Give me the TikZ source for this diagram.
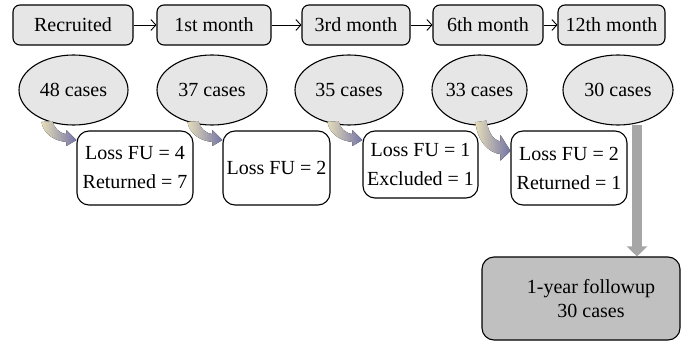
\documentclass[tikz,border=0pt]{standalone}
\usepackage{fontspec}
\setmainfont{Liberation Serif}
\usetikzlibrary{arrows.meta,shapes.geometric}
\definecolor{boxgray}{HTML}{E6E6E6}
\definecolor{tanc}{HTML}{E4DDB8}
\definecolor{purpc}{HTML}{7474A6}
\definecolor{bargray}{HTML}{A6A6A6}
\definecolor{endgray}{HTML}{C0C0C0}
\begin{document}
\begin{tikzpicture}[x=1pt,y=-1pt,
  font=\fontsize{20}{29}\selectfont,
  topbox/.style={draw, fill=boxgray, rounded corners=7pt, minimum height=40pt, inner sep=0pt, line width=1.1pt},
  casenode/.style={draw, ellipse, fill=boxgray, minimum height=70pt, inner sep=0pt, line width=1.1pt},
  lossbox/.style={draw, fill=white, rounded corners=12pt, minimum height=74pt, inner sep=0pt, align=center, line width=1.1pt},
  flow/.style={-{Straight Barb[length=5pt,width=11pt]}, line width=0.9pt},
  fuarrow/.pic={\fill[left color=tanc, right color=purpc]
      (-35,-18) .. controls (-33,-6) and (-22,1) .. (-10,2) -- (-10,6) -- (0,0)
      -- (-10,-10) -- (-10,-6) .. controls (-18,-7) and (-22,-12) .. (-24,-19) -- cycle;}
]
\useasboundingbox (0,0) rectangle (682,345);
% top row
\node[topbox, minimum width=120pt] (rec) at (73,25) {Recruited};
\node[topbox, minimum width=114pt] (m1) at (214,25) {1st month};
\node[topbox, minimum width=108pt] (m3) at (356,25) {3rd month};
\node[topbox, minimum width=110pt] (m6) at (488,25) {6th month};
\node[topbox, minimum width=107pt] (m12) at (611.5,25) {12th month};
\draw[flow] (rec) -- (m1);
\draw[flow] (m1) -- (m3);
\draw[flow] (m3) -- (m6);
\draw[flow] (m6) -- (m12);
% ellipses
\node[casenode, minimum width=109pt] (c48) at (73.5,90) {48 cases};
\node[casenode, minimum width=110pt] (c37) at (212,90) {37 cases};
\node[casenode, minimum width=108pt] (c35) at (349,90) {35 cases};
\node[casenode, minimum width=95pt] (c33) at (479.5,90) {33 cases};
\node[casenode, minimum width=110pt] (c30) at (618,90) {30 cases};
% loss boxes
\node[lossbox, minimum width=116pt] (l1) at (135,168) {Loss FU = 4\\Returned = 7};
\node[lossbox, minimum width=107pt] (l2) at (276.5,168) {Loss FU = 2};
\node[lossbox, minimum width=115pt, minimum height=67pt] (l3) at (420.5,164.5) {Loss FU = 1\\Excluded = 1};
\node[lossbox, minimum width=116pt] (l4) at (569,168) {Loss FU = 2\\Returned = 1};
% gradient arrows
\pic at (l1.west |- 0,140) {fuarrow};
\pic at (l2.west |- 0,140) {fuarrow};
\pic at (l3.west |- 0,140) {fuarrow};
\pic[yscale=1.6] at (l4.west |- 0,151) {fuarrow};
% final box
\node[draw, fill=endgray, rounded corners=12pt, minimum width=198pt, minimum height=83pt, line width=1.1pt] (fin) at (581,298.5) {};
\node[align=center, font=\fontsize{20}{24}\selectfont] (fintext) at (591,299) {1-year followup\\30 cases};
\coordinate (gtop) at (637,125);
\draw[bargray, line width=10pt, -{Triangle[length=10pt,width=20pt]}] (gtop) -- (gtop |- fin.north);
\end{tikzpicture}
\end{document}
